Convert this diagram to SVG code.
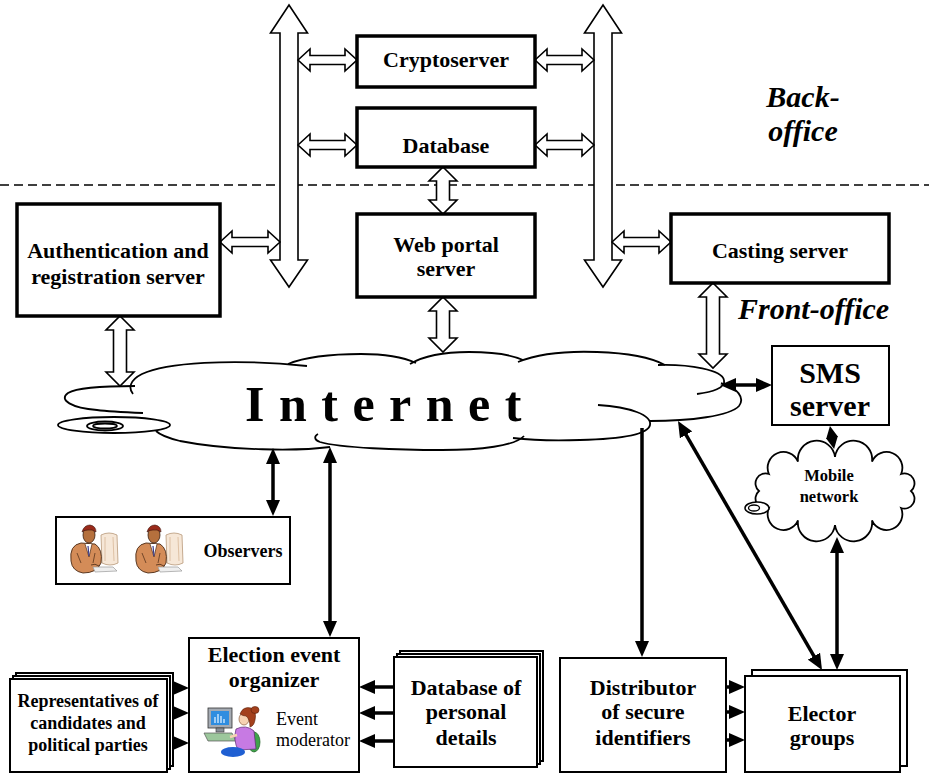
<svg xmlns="http://www.w3.org/2000/svg" width="929" height="774" viewBox="0 0 929 774">
<style>
  .box{fill:#fff;stroke:#000;stroke-width:3.5}
  .thin{fill:#fff;stroke:#000;stroke-width:2}
  .lbl{font-family:"Liberation Serif","Times New Roman",serif;font-weight:bold;font-size:22px;text-anchor:middle;fill:#000}
  .sm{font-size:18px}
  .big{font-size:30px}
  .mob{font-size:16.5px}
  .ital{font-family:"Liberation Serif","Times New Roman",serif;font-weight:bold;font-style:italic;font-size:30px;fill:#000}
  .reg{font-family:"Liberation Serif","Times New Roman",serif;font-size:18px;fill:#000}
  .blk{stroke:#000;stroke-width:3.5;fill:none}
  .dbl{marker-start:url(#ah);marker-end:url(#ah)}
  .one{marker-end:url(#ah)}
  .tiny{marker-start:url(#ahs);marker-end:url(#ahs)}
  .harrow{fill:#fff;stroke:#000;stroke-width:1.6;stroke-linejoin:miter}
  .cl{fill:none;stroke:#000;stroke-width:1.8}
</style>
<defs>
  <marker id="ah" viewBox="0 0 16 14" refX="10" refY="7" markerWidth="16" markerHeight="14" markerUnits="userSpaceOnUse" orient="auto-start-reverse">
    <path d="M0,0 L16,7 L0,14 Z" fill="#000"/>
  </marker>
  <marker id="ahs" viewBox="0 0 12 12" refX="6" refY="6" markerWidth="12" markerHeight="12" markerUnits="userSpaceOnUse" orient="auto-start-reverse">
    <path d="M0,0 L12,6 L0,12 Z" fill="#000"/>
  </marker>
  <!-- seated person at a terminal, used in the observers panel -->
  <g id="observer-figure">
    <path d="M34,12 Q42,8 50,12 L51,40 Q43,44 35,40 Z" fill="#f6e7d7" stroke="#b89878" stroke-width="0.8"/>
    <path d="M38,14 L38,38 M46,14 L47,38" stroke="#d8b898" stroke-width="0.8"/>
    <path d="M4,38 Q2,22 14,20 L28,21 Q36,26 34,40 Q30,50 16,50 Q5,48 4,38 Z" fill="#d48c58" stroke="#4a2a15" stroke-width="0.9"/>
    <path d="M18,21 L22,34 L25,21" fill="#fff" stroke="#4a2a15" stroke-width="0.7"/>
    <path d="M21,23 L22,33" stroke="#3a3a8a" stroke-width="1.2"/>
    <path d="M10,30 L14,40 M28,30 L26,40" stroke="#4a2a15" stroke-width="0.7" fill="none"/>
    <ellipse cx="22" cy="12" rx="6" ry="8" fill="#b5703d" stroke="#3a2010" stroke-width="0.8"/>
    <path d="M15,9 Q17,2 23,2 Q29,3 29,9 Q25,6 21,7 Q17,7 15,9 Z" fill="#9a2a1a" stroke="#3a1008" stroke-width="0.6"/>
    <path d="M26,44 L46,44 L50,48 L28,49 Z" fill="#eee" stroke="#999" stroke-width="0.7"/>
    <path d="M24,42 Q28,40 32,43" fill="none" stroke="#4a2a15" stroke-width="0.8"/>
  </g>
</defs>

<rect width="929" height="774" fill="#fff"/>

<!-- back-office / front-office boundary -->
<line x1="0" y1="185" x2="929" y2="185" stroke="#000" stroke-width="1.5" stroke-dasharray="9,5"/>
<text class="ital" x="803" y="107" text-anchor="middle">Back-</text>
<text class="ital" x="803" y="141" text-anchor="middle">office</text>
<text class="ital" x="738" y="319">Front-office</text>

<!-- Internet cloud -->
<g id="internet">
  <path d="M64,398 L90,388 L135,386 L150,372 L207,361 L290,363 L361,355 L415,362 L469,352 L522,359 L595,352 L665,365 L723,378 L740,400 L700,420 L650,421 L638,437 L513,440 L442,450 L317,444 L250,449 L175,440 L160,432 L100,410 Z" fill="#fff"/>
  <path class="cl" d="M143,413 C120,412 105,411 97,410 C72,408 58,400 68,393 C78,387 110,386 135,386"/>
  <path class="cl" d="M133,394 C128,388 130,380 142,374 C165,363 230,358 307,366"/>
  <path class="cl" d="M288,364 C305,357 335,354 361,354 C388,354 405,358 416,363"/>
  <path class="cl" d="M410,364 C425,355 448,352 469,352 C492,352 512,355 523,360"/>
  <path class="cl" d="M518,362 C540,353 570,351 597,352 C628,353 652,358 665,365"/>
  <path class="cl" d="M658,365 C690,364 722,370 724,380 C726,388 712,392 697,394"/>
  <path class="cl" d="M721,383 C738,388 745,398 739,406 C730,416 690,421 650,421"/>
  <path class="cl" d="M598,405 C630,407 652,415 650,425 C648,435 620,439 580,440 C550,441 530,440 513,438"/>
  <path class="cl" d="M524,436 C515,446 480,450 442,450 C400,450 340,448 320,442 C314,440 314,436 318,434"/>
  <path class="cl" d="M330,447 C300,451 230,451 180,441 C168,438 160,435 156,431"/>
  <ellipse class="cl" cx="114" cy="425" rx="56" ry="8" fill="#fff"/>
  <ellipse class="cl" cx="105" cy="426" rx="18" ry="4.5"/>
  <ellipse class="cl" cx="105" cy="426" rx="12" ry="2.5" stroke-width="1.2"/>
  <text x="245" y="421" font-family="Liberation Serif, Times New Roman, serif" font-weight="bold" font-size="50" letter-spacing="14.5">Internet</text>
</g>

<!-- Mobile network cloud -->
<g id="mobile-network">
  <path d="M911,491 A10,10 0 0 1 901.1,508 A10,10 0 0 1 872,520.4 A10,10 0 0 1 835,525 A10,10 0 0 1 798,520.4 A10,10 0 0 1 768.9,508 A10,10 0 0 1 759,491 A10,10 0 0 1 768.9,474 A10,10 0 0 1 798,461.6 A10,10 0 0 1 835,457 A10,10 0 0 1 872,461.6 A10,10 0 0 1 901.1,474 A10,10 0 0 1 911,491 Z" fill="#fff" stroke="#000" stroke-width="1.8"/>
  <ellipse cx="757" cy="508" rx="12" ry="6" fill="#fff" stroke="#000" stroke-width="1.5"/>
  <ellipse cx="754" cy="508" rx="5.5" ry="3" fill="none" stroke="#000" stroke-width="1.3"/>
  <text class="lbl mob" x="829" y="481">Mobile</text>
  <text class="lbl mob" x="829" y="502">network</text>
</g>

<!-- block (outline) connectors -->
<g id="connectors">
  <path class="harrow" d="M289,5 L307.5,33 L298,33 L298,260 L307.5,260 L289,287 L270.5,260 L280,260 L280,33 L270.5,33 Z"/>
  <path class="harrow" d="M603,5 L621.5,33 L612,33 L612,260 L621.5,260 L603,287 L584.5,260 L594,260 L594,33 L584.5,33 Z"/>
  <path class="harrow" d="M298,60 L310,49 L310,55.5 L345,55.5 L345,49 L357,60 L345,71 L345,64.5 L310,64.5 L310,71 Z"/>
  <path class="harrow" d="M535,60 L547,49 L547,55.5 L582,55.5 L582,49 L594,60 L582,71 L582,64.5 L547,64.5 L547,71 Z"/>
  <path class="harrow" d="M298,145 L310,134 L310,140.5 L345,140.5 L345,134 L357,145 L345,156 L345,149.5 L310,149.5 L310,156 Z"/>
  <path class="harrow" d="M535,145 L547,134 L547,140.5 L582,140.5 L582,134 L594,145 L582,156 L582,149.5 L547,149.5 L547,156 Z"/>
  <path class="harrow" d="M220,242 L232,231 L232,237.5 L268,237.5 L268,231 L280,242 L268,253 L268,246.5 L232,246.5 L232,253 Z"/>
  <path class="harrow" d="M612,242 L624,231 L624,237.5 L659,237.5 L659,231 L671,242 L659,253 L659,246.5 L624,246.5 L624,253 Z"/>
  <path class="harrow" d="M443,167 L457,181 L449.5,181 L449.5,200 L457,200 L443,214 L429,200 L436.5,200 L436.5,181 L429,181 Z"/>
  <path class="harrow" d="M443,297 L457,311 L449.5,311 L449.5,338 L457,338 L443,352 L429,338 L436.5,338 L436.5,311 L429,311 Z"/>
  <path class="harrow" d="M120,316 L134,330 L126.5,330 L126.5,372 L134,372 L120,386 L106,372 L113.5,372 L113.5,330 L106,330 Z"/>
  <path class="harrow" d="M713,283 L727,297 L719.5,297 L719.5,354 L727,354 L713,368 L699,354 L706.5,354 L706.5,297 L699,297 Z"/>

  <!-- solid connectors -->
  <line class="blk dbl" x1="273" y1="454" x2="273" y2="510"/>
  <line class="blk dbl" x1="330" y1="453" x2="330" y2="631"/>
  <line class="blk one" x1="642" y1="428" x2="642" y2="651"/>
  <line class="blk dbl" x1="681" y1="426.2" x2="819" y2="664.8"/>
  <line class="blk dbl" x1="837" y1="543" x2="837" y2="664"/>
  <line class="blk tiny" x1="831" y1="432" x2="833" y2="443"/>
  <line class="blk dbl" x1="726" y1="385" x2="766" y2="385"/>
  <line class="blk one" x1="170" y1="688" x2="183" y2="688"/>
  <line class="blk one" x1="170" y1="713" x2="183" y2="713"/>
  <line class="blk one" x1="170" y1="743" x2="183" y2="743"/>
  <line class="blk one" x1="394" y1="687" x2="365" y2="687"/>
  <line class="blk one" x1="394" y1="713" x2="365" y2="713"/>
  <line class="blk one" x1="394" y1="741" x2="365" y2="741"/>
  <line class="blk one" x1="726" y1="687" x2="739" y2="687"/>
  <line class="blk one" x1="726" y1="712" x2="739" y2="712"/>
  <line class="blk one" x1="726" y1="740" x2="739" y2="740"/>
</g>

<!-- back-office servers -->
<g id="cryptoserver">
  <rect class="box" x="357" y="36" width="178" height="51"/>
  <text class="lbl" x="446" y="67">Cryptoserver</text>
</g>
<g id="database">
  <rect class="box" x="357" y="108" width="178" height="59"/>
  <text class="lbl" x="446" y="153">Database</text>
</g>

<!-- front-office servers -->
<g id="web-portal">
  <rect class="box" x="357" y="214" width="178" height="83"/>
  <text class="lbl" x="446" y="252">Web portal</text>
  <text class="lbl" x="446" y="276">server</text>
</g>
<g id="auth-server">
  <rect class="box" x="17" y="204" width="203" height="112"/>
  <text class="lbl" x="118" y="258">Authentication and</text>
  <text class="lbl" x="118" y="284">registration server</text>
</g>
<g id="casting-server">
  <rect class="box" x="671" y="214" width="218" height="69"/>
  <text class="lbl" x="780" y="258">Casting server</text>
</g>
<g id="sms-server">
  <rect class="thin" x="772" y="346" width="117" height="79"/>
  <text class="lbl big" x="830" y="383">SMS</text>
  <text class="lbl big" x="830" y="416">server</text>
</g>

<!-- participants -->
<g id="observers">
  <rect class="thin" x="56" y="517" width="234" height="67"/>
  <use href="#observer-figure" x="67" y="523"/>
  <use href="#observer-figure" x="132" y="523"/>
  <text class="lbl sm" x="243" y="557">Observers</text>
</g>

<g id="representatives">
  <rect class="thin" x="16" y="673" width="157" height="93"/>
  <rect class="thin" x="13" y="676" width="157" height="93"/>
  <rect class="thin" x="10" y="679" width="157" height="93"/>
  <text class="lbl sm" x="88" y="707">Representatives of</text>
  <text class="lbl sm" x="88" y="729">candidates and</text>
  <text class="lbl sm" x="88" y="751">political parties</text>
</g>

<g id="organizer">
  <rect class="thin" x="189" y="638" width="170" height="134"/>
  <text class="lbl" x="274" y="662">Election event</text>
  <text class="lbl" x="274" y="687">organizer</text>
  <text class="reg" x="276" y="725">Event</text>
  <text class="reg" x="276" y="746">moderator</text>
  <!-- moderator at workstation -->
  <rect x="208" y="708" width="24" height="20" fill="#a5abb3" stroke="#333" stroke-width="0.8"/>
  <rect x="211" y="711" width="18" height="14" fill="#2f8de0"/>
  <path d="M215,723 V717 M218,723 V714 M221,723 V716 M224,723 V719" stroke="#cfe8ff" stroke-width="1.4"/>
  <rect x="216" y="728" width="8" height="4" fill="#8a9098" stroke="#333" stroke-width="0.6"/>
  <path d="M204,733 L232,733 L236,741 L208,741 Z" fill="#9cc79c" stroke="#555" stroke-width="0.7"/>
  <ellipse cx="254" cy="742" rx="6" ry="10" fill="#3fa34a" stroke="#1d5e22" stroke-width="0.7"/>
  <path d="M236,729 Q246,724 254,731 L256,749 L238,750 Q233,740 236,729 Z" fill="#c77ae3" stroke="#5a2a70" stroke-width="0.7"/>
  <ellipse cx="233" cy="752" rx="12" ry="5" fill="#1f5fd2"/>
  <ellipse cx="244" cy="719" rx="5" ry="6" fill="#f6d2b2" stroke="#7a4a2a" stroke-width="0.6"/>
  <path d="M240,714 Q243,706 251,708 Q257,711 255,720 Q254,726 250,727 Q250,719 246,716 Q243,716 240,714 Z" fill="#a3401c" stroke="#5a1e08" stroke-width="0.6"/>
  <ellipse cx="255" cy="710" rx="4" ry="3.5" fill="#a3401c" stroke="#5a1e08" stroke-width="0.6"/>
  <path d="M237,735 L230,737" stroke="#f6d2b2" stroke-width="2.4"/>
</g>

<g id="personal-details-db">
  <rect class="thin" x="400" y="651" width="143" height="110"/>
  <rect class="thin" x="397" y="654" width="143" height="110"/>
  <rect class="thin" x="394" y="657" width="143" height="110"/>
  <text class="lbl" x="466" y="695">Database of</text>
  <text class="lbl" x="466" y="719">personal</text>
  <text class="lbl" x="466" y="745">details</text>
</g>

<g id="distributor">
  <rect class="thin" x="560" y="658" width="166" height="114"/>
  <text class="lbl" x="643" y="695">Distributor</text>
  <text class="lbl" x="643" y="719">of secure</text>
  <text class="lbl" x="643" y="745">identifiers</text>
</g>

<g id="elector-groups">
  <rect class="thin" x="752" y="670" width="155" height="96"/>
  <rect class="thin" x="745" y="676" width="155" height="96"/>
  <text class="lbl" x="822" y="721">Elector</text>
  <text class="lbl" x="822" y="745">groups</text>
</g>
</svg>
